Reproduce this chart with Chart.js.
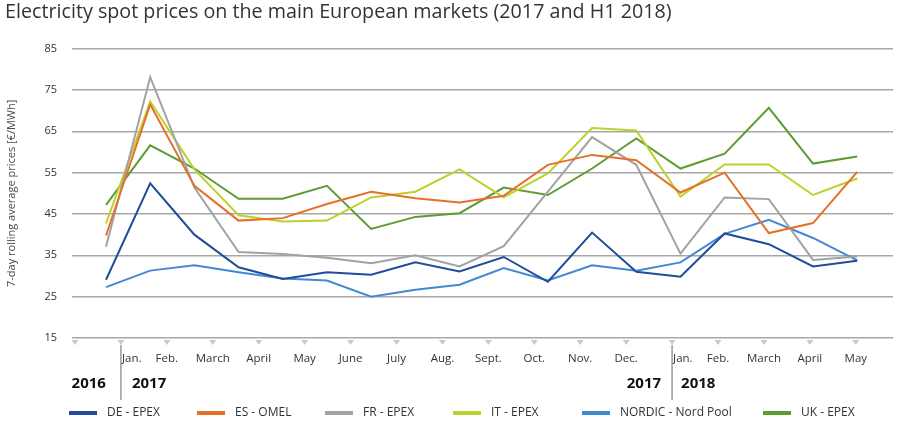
<!DOCTYPE html>
<html>
<head>
<meta charset="utf-8">
<script src="https://cdn.jsdelivr.net/npm/chart.js@4.4.0/dist/chart.umd.min.js"></script>
<style>
  html, body { margin: 0; padding: 0; background: #fff; }
</style>
</head>
<body>
<canvas id="chart" width="900" height="422"></canvas>
<script>
const titleText = "Electricity spot prices on the main European markets (2017 and H1 2018)";
const yTitle = "7-day rolling average prices [€/MWh]";

// month ticks under the axis, first one is the end of 2016
const monthLabels = ["", "Jan.", "Feb.", "March", "April", "May", "June", "July", "Aug.",
  "Sept.", "Oct.", "Nov.", "Dec.", "Jan.", "Feb.", "March", "April", "May"];
const yearBreaks = [1, 13];
const yearLabels = [["2016", "2017"], ["2017", "2018"]];

const seriesNames = ["DE - EPEX", "ES - OMEL", "FR - EPEX", "IT - EPEX", "NORDIC - Nord Pool", "UK - EPEX"];
const seriesColors = ["#1f4d9b", "#e6702a", "#a2a2a2", "#bdd12d", "#4289d4", "#5c9d33"];

const deEpex = [29.1, 52.4, 40.0, 32.1, 29.3, 30.9, 30.3, 33.3, 31.1, 34.6, 28.6, 40.5, 31.0, 29.8, 40.3, 37.7, 32.3, 33.7];
const esOmel = [39.8, 71.5, 51.8, 43.4, 44.0, 47.4, 50.4, 48.8, 47.8, 49.4, 56.9, 59.3, 58.0, 50.2, 55.0, 40.4, 42.8, 55.2];
const frEpex = [37.1, 78.1, 51.4, 35.8, 35.3, 34.4, 33.1, 35.0, 32.3, 37.2, 50.4, 63.6, 56.9, 35.4, 49.0, 48.6, 33.9, 34.7];
const itEpex = [42.7, 72.2, 55.8, 44.7, 43.2, 43.4, 49.0, 50.4, 55.8, 49.0, 54.8, 65.8, 65.2, 49.2, 57.0, 57.0, 49.6, 53.6];
const nordic = [27.3, 31.3, 32.6, 30.9, 29.4, 28.9, 25.0, 26.7, 27.9, 31.9, 28.9, 32.6, 31.3, 33.3, 40.2, 43.6, 39.2, 33.8];
const ukEpex = [47.2, 61.6, 56.0, 48.7, 48.7, 51.8, 41.4, 44.3, 45.2, 51.4, 49.6, 56.0, 63.3, 56.0, 59.6, 70.7, 57.2, 58.9];

const yTicks = [15, 25, 35, 45, 55, 65, 75, 85];

const allSeries = [deEpex, esOmel, frEpex, itEpex, nordic, ukEpex];
const family = "'Open Sans', 'Noto Sans', sans-serif";
const textColor = "#333333";
const gridColor = "#a7a7a7";

const legendSlots = [69, 197, 325, 453, 582, 763];

function fitFontSize(text, weight, width) {
  const ctx = document.createElement("canvas").getContext("2d");
  ctx.font = `${weight} 100px ${family}`;
  return 100 * width / ctx.measureText(text).width;
}

const titleSize = fitFontSize(titleText, "500", 667);

const bottomDecor = {
  id: "bottomDecor",
  afterDraw(chart) {
    const ctx = chart.ctx;
    const x2 = chart.scales.x2;
    const yAxis = chart.scales.y;
    const base = yAxis.getPixelForValue(yTicks[0]);
    ctx.save();

    // little triangles and month names
    monthLabels.forEach((label, k) => {
      const px = x2.getPixelForValue(k);
      ctx.fillStyle = "#c9c9c9";
      ctx.beginPath();
      ctx.moveTo(px - 3.5, base + 2);
      ctx.lineTo(px + 3.5, base + 2);
      ctx.lineTo(px, base + 7);
      ctx.closePath();
      ctx.fill();
      if (!label) return;
      ctx.fillStyle = textColor;
      ctx.font = `11.5px ${family}`;
      ctx.textBaseline = "middle";
      if (yearBreaks.includes(k)) {
        ctx.textAlign = "left";
        ctx.fillText(label, px + 1, base + 21);
      } else {
        ctx.textAlign = "center";
        ctx.fillText(label, px, base + 21);
      }
    });

    // year separators
    yearBreaks.forEach((k, i) => {
      const px = x2.getPixelForValue(k);
      ctx.strokeStyle = "#9a9a9a";
      ctx.lineWidth = 1.5;
      ctx.beginPath();
      ctx.moveTo(px, base + 7);
      ctx.lineTo(px, base + 62);
      ctx.stroke();
      ctx.fillStyle = "#111";
      ctx.font = `bold 15px ${family}`;
      ctx.textBaseline = "middle";
      ctx.textAlign = "right";
      ctx.fillText(yearLabels[i][0], px - (i === 0 ? 15 : 11), base + 46);
      ctx.textAlign = "left";
      ctx.fillText(yearLabels[i][1], px + (i === 0 ? 11 : 9), base + 46);
    });

    // legend
    chart.data.datasets.forEach((ds, i) => {
      const lx = legendSlots[i];
      const ly = 413;
      ctx.fillStyle = ds.borderColor;
      ctx.fillRect(lx, ly - 2, 28, 4);
      ctx.fillStyle = textColor;
      ctx.font = `12px ${family}`;
      ctx.textAlign = "left";
      ctx.textBaseline = "middle";
      ctx.fillText(ds.label, lx + 38, ly);
    });
    ctx.restore();
  }
};

const chart = new Chart(document.getElementById("chart").getContext("2d"), {
  type: "line",
  data: {
    datasets: allSeries.map((values, i) => ({
      label: seriesNames[i],
      data: values.map((v, idx) => ({ x: idx, y: v })),
      borderColor: seriesColors[i],
      backgroundColor: seriesColors[i],
      borderWidth: 2,
      pointRadius: 0,
      tension: 0,
      xAxisID: "x",
      yAxisID: "y",
    })),
  },
  options: {
    responsive: false,
    animation: false,
    layout: { padding: { left: 5, right: 7, top: 0, bottom: 0 } },
    plugins: {
      legend: { display: false },
      tooltip: { enabled: false },
      title: {
        display: true,
        text: titleText,
        align: "start",
        color: "#333333",
        font: { family, size: titleSize, weight: "500" },
        padding: { top: 1, bottom: 24 },
      },
    },
    scales: {
      x: {
        type: "linear",
        display: false,
        min: -0.77,
        max: 17.81,
      },
      x2: {
        type: "linear",
        position: "bottom",
        min: -0.065,
        max: 17.81,
        grid: { display: false },
        border: { display: false },
        ticks: { display: false, stepSize: 1 },
        afterFit(scale) { scale.height = 84; },
      },
      y: {
        min: yTicks[0],
        max: yTicks[yTicks.length - 1],
        afterBuildTicks(scale) { scale.ticks = yTicks.map(v => ({ value: v })); },
        afterFit(scale) { scale.width = 67; },
        grid: { color: gridColor, lineWidth: 1.4, drawTicks: false },
        border: { display: false },
        ticks: { color: textColor, padding: 15, font: { family, size: 11 } },
        title: {
          display: true,
          text: yTitle,
          color: "#4a4a4a",
          padding: { top: 0, bottom: 0 },
          font: { family, size: 11 },
        },
      },
    },
  },
  plugins: [bottomDecor],
});
</script>
</body>
</html>
